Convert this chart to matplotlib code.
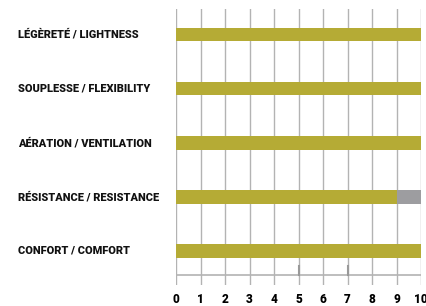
import matplotlib
matplotlib.use("Agg")
import matplotlib.pyplot as plt
from matplotlib.transforms import blended_transform_factory

# Data
labels = ["LÉGÈRETÉ / LIGHTNESS", "SOUPLESSE / FLEXIBILITY", "AÉRATION / VENTILATION",
          "RÉSISTANCE / RESISTANCE", "CONFORT / COMFORT"]
scores = [10, 10, 10, 9, 10]
max_score = 10
ticks = list(range(0, 11))
marks = [5, 7]

bar_color = "#b5ab35"
rest_color = "#9d9da0"
grid_color = "#b3b3b3"

fig = plt.figure(figsize=(4.26, 3.06), dpi=100)
W, H = 426, 306
top_px, bot_px = 9, 285
ax = fig.add_axes([176 / W, 1 - bot_px / H, (421 - 176) / W, (bot_px - top_px) / H])

# category positions, top row first
ypos = [4 - i for i in range(len(labels))]
ax.set_ylim((251 - bot_px) / 54.1, (251 - top_px) / 54.1)
ax.set_xlim(0, max_score)

for x in ticks:
    ax.axvline(x, color=grid_color, lw=1.0, zorder=1)

base = (251 - 275) / 54.1
ax.axhline(base, color=grid_color, lw=1.2, zorder=1)
for m in marks:
    ax.plot([m, m], [base, (251 - 266) / 54.1], color="#999999", lw=1.5, zorder=2)

h = 0.25
ax.barh(ypos, scores, height=h, color=bar_color, zorder=3)
rest = [max_score - s for s in scores]
ax.barh(ypos, rest, left=scores, height=h, color=rest_color, zorder=3)

ax.set_yticks([])
ax.set_xticks(ticks)
ax.set_xticklabels([str(t) for t in ticks], fontsize=8.5, fontweight="black",
                   family="Roboto")
ax.tick_params(axis="x", length=0, pad=6)
for s in ax.spines.values():
    s.set_visible(False)

# row labels, left aligned in figure coords, vertically on the bars
trans = blended_transform_factory(fig.transFigure, ax.transData)
for y, lab in zip(ypos, labels):
    ax.text(18 / W, y, lab, transform=trans, fontsize=7.9, fontweight="black",
            family="Roboto", ha="left", va="center", color="#111111")

fig.savefig("out.png", dpi=100)
